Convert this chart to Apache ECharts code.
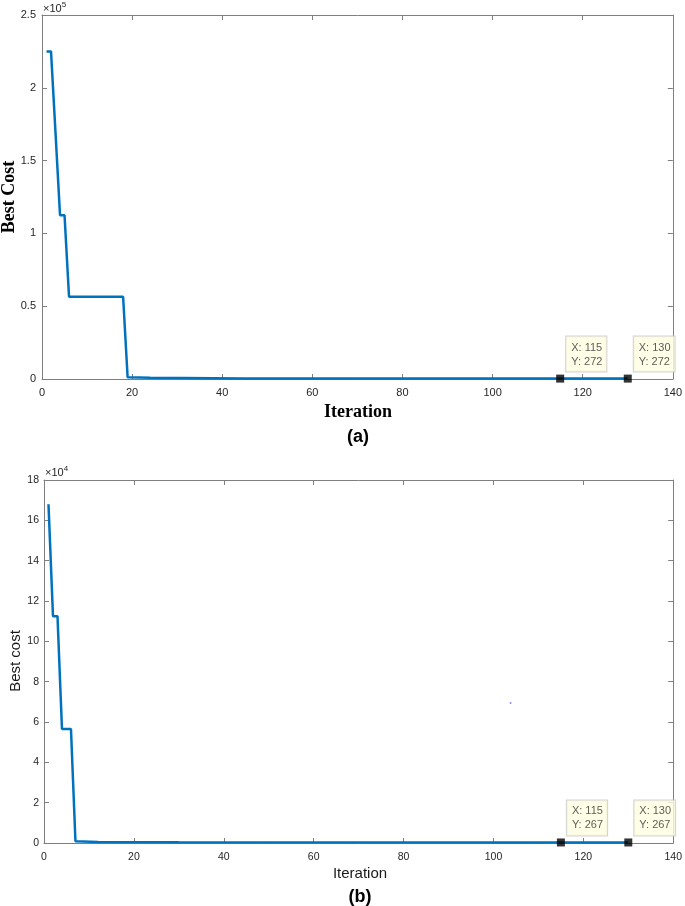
<!DOCTYPE html>
<html>
<head>
<meta charset="utf-8">
<script src="https://cdn.jsdelivr.net/npm/echarts@6/dist/echarts.min.js"></script>
<style>html,body{margin:0;padding:0;background:#fff;}#c{width:685px;height:906px;}</style>
</head>
<body>
<div id="c"></div>
<script>
// ---- data: panel (a) ----
var iterA = [1, 2, 3, 4, 5, 6, 18, 19, 24, 45, 130];
var costA = [225000, 225000, 169000, 112500, 112500, 56500, 56500, 1200, 800, 400, 272];
var tipsA = [[115, 272], [130, 272]];
// ---- data: panel (b) ----
var iterB = [1, 2, 3, 4, 6, 7, 12, 30, 130];
var costB = [168000, 112500, 112500, 56500, 56500, 900, 500, 350, 267];
var tipsB = [[115, 267], [130, 267]];
var strayB = [[103.8, 69400]];
// ---- axes ----
var xTicks = [0, 20, 40, 60, 80, 100, 120, 140];
var yTicksA = ['0', '0.5', '1', '1.5', '2', '2.5'];
var yTicksB = ['0', '2', '4', '6', '8', '10', '12', '14', '16', '18'];

function pairs(xs, ys) { return xs.map(function (x, i) { return [x, ys[i]]; }); }

var axisCol = '#7f7f7f';
var txtCol = '#262626';
var sans = 'Liberation Sans, Arial, sans-serif';
var serif = 'Liberation Serif, Times New Roman, serif';

function xAx(gi, pos, showLabel, fs, margin) {
  return {
    type: 'value', gridIndex: gi, position: pos, min: 0, max: 140, interval: 20,
    axisLine: { show: true, onZero: false, lineStyle: { color: axisCol, width: 1 } },
    axisTick: { show: true, inside: true, length: 5, lineStyle: { color: axisCol } },
    axisLabel: { show: showLabel, color: txtCol, fontSize: fs, fontFamily: sans, margin: margin,
      formatter: function (v) { return xTicks.indexOf(v) >= 0 ? String(v) : ''; } },
    splitLine: { show: false }
  };
}
function yAx(gi, pos, showLabel, max, step, labels, fs, margin) {
  return {
    type: 'value', gridIndex: gi, position: pos, min: 0, max: max, interval: step,
    axisLine: { show: true, onZero: false, lineStyle: { color: axisCol, width: 1 } },
    axisTick: { show: true, inside: true, length: 5, lineStyle: { color: axisCol } },
    axisLabel: { show: showLabel, color: txtCol, fontSize: fs, fontFamily: sans, margin: margin,
      formatter: function (v) { return labels[Math.round(v / step)]; } },
    splitLine: { show: false }
  };
}
function tipLabel(fs) {
  return {
    show: true, position: [10, -3], align: 'left', verticalAlign: 'bottom',
    backgroundColor: '#ffffe1', borderColor: '#c8c8c8', borderWidth: 1,
    padding: [4, 4, 3, 5], color: '#333', fontSize: fs, fontFamily: sans, lineHeight: 14,
    formatter: function (p) { return 'X: ' + p.value[0] + '\nY: ' + p.value[1]; }
  };
}

var chart = echarts.init(document.getElementById('c'), null, { renderer: 'canvas' });
chart.setOption({
  animation: false,
  backgroundColor: '#fff',
  grid: [
    { left: 42, top: 15, width: 631, height: 364 },
    { left: 44, top: 480, width: 630, height: 363 }
  ],
  xAxis: [
    xAx(0, 'bottom', true, 11, 8), xAx(0, 'top', false, 11, 8),
    xAx(1, 'bottom', true, 10.5, 9), xAx(1, 'top', false, 10.5, 9)
  ],
  yAxis: [
    yAx(0, 'left', true, 250000, 50000, yTicksA, 11, 6), yAx(0, 'right', false, 250000, 50000, yTicksA, 11, 6),
    yAx(1, 'left', true, 180000, 20000, yTicksB, 10.5, 5), yAx(1, 'right', false, 180000, 20000, yTicksB, 10.5, 5)
  ],
  series: [
    { type: 'line', xAxisIndex: 0, yAxisIndex: 0, data: pairs(iterA, costA), showSymbol: false,
      lineStyle: { color: '#0072bd', width: 2.5 }, z: 3 },
    { type: 'scatter', xAxisIndex: 0, yAxisIndex: 0, data: tipsA, symbol: 'rect', symbolSize: 8,
      itemStyle: { color: '#000' }, label: tipLabel(11), z: 5 },
    { type: 'line', xAxisIndex: 2, yAxisIndex: 2, data: pairs(iterB, costB), showSymbol: false,
      lineStyle: { color: '#0072bd', width: 2.5 }, z: 3 },
    { type: 'scatter', xAxisIndex: 2, yAxisIndex: 2, data: tipsB, symbol: 'rect', symbolSize: 8,
      itemStyle: { color: '#000' }, label: tipLabel(11), z: 5 },
    { type: 'scatter', xAxisIndex: 2, yAxisIndex: 2, data: strayB, symbol: 'circle', symbolSize: 2,
      itemStyle: { color: '#7b68ee' }, z: 2 }
  ],
  graphic: [
    { type: 'text', x: 43, y: 9, style: { text: '{a|×10}{b|5}', verticalAlign: 'middle',
      rich: { a: { fontSize: 11, fontFamily: sans, fill: txtCol }, b: { fontSize: 8, fontFamily: sans, fill: txtCol, verticalAlign: 'bottom', padding: [0, 0, 8, 0] } } } },
    { type: 'text', x: 45, y: 473, style: { text: '{a|×10}{b|4}', verticalAlign: 'middle',
      rich: { a: { fontSize: 11, fontFamily: sans, fill: txtCol }, b: { fontSize: 8, fontFamily: sans, fill: txtCol, verticalAlign: 'bottom', padding: [0, 0, 8, 0] } } } },
    { type: 'text', x: 9, y: 197, rotation: Math.PI / 2, style: { text: 'Best Cost', align: 'center', verticalAlign: 'middle',
      font: 'bold 18px ' + serif, fill: '#000' } },
    { type: 'text', x: 358, y: 412, style: { text: 'Iteration', align: 'center', verticalAlign: 'middle',
      font: 'bold 18px ' + serif, fill: '#000' } },
    { type: 'text', x: 358, y: 437, style: { text: '(a)', align: 'center', verticalAlign: 'middle',
      font: 'bold 18px ' + sans, fill: '#000' } },
    { type: 'text', x: 16, y: 661, rotation: Math.PI / 2, style: { text: 'Best cost', align: 'center', verticalAlign: 'middle',
      font: '15px ' + sans, fill: '#1a1a1a' } },
    { type: 'text', x: 360, y: 874, style: { text: 'Iteration', align: 'center', verticalAlign: 'middle',
      font: '15px ' + sans, fill: '#1a1a1a' } },
    { type: 'text', x: 360, y: 897, style: { text: '(b)', align: 'center', verticalAlign: 'middle',
      font: 'bold 18px ' + sans, fill: '#000' } }
  ]
});
</script>
</body>
</html>
